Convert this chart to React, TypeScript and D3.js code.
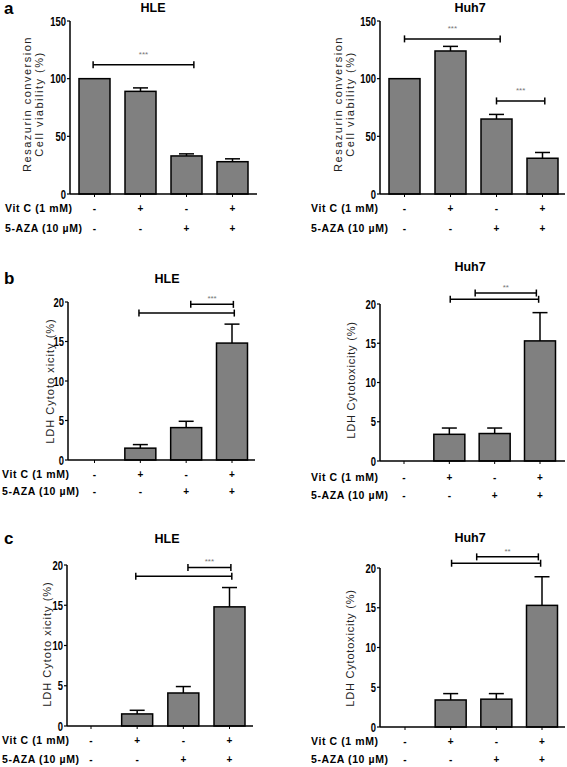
import React from "react";
import * as d3 from "d3";

// ---------- data ----------
const vitCLabel = "Vit C (1 mM)";
const azaLabel = "5-AZA (10 µM)";
const vitCSigns = ["-", "+", "-", "+"];
const azaSigns = ["-", "-", "+", "+"];

const viabilityTicks = [0, 50, 100, 150];
const ldhTicks = [0, 5, 10, 15, 20];

const hleViability = [100, 89, 33, 28];
const hleViabilityErr = [0, 3, 1.8, 2.5];
const huh7Viability = [100, 124, 65, 31];
const huh7ViabilityErr = [0, 4, 4, 5];

const hleLdh = [0, 1.5, 4.1, 14.8];
const hleLdhErr = [0, 0.45, 0.8, 2.4];
const huh7Ldh = [0, 3.4, 3.5, 15.3];
const huh7LdhErr = [0, 0.8, 0.7, 3.6];

// significance brackets: from/to in group-index units
const hleViabilitySig = [{ from: -0.03, to: 2.16, value: 112, label: "***" }];
const huh7ViabilitySig = [
  { from: 0, to: 2.08, value: 134.5, label: "***" },
  { from: 2.0, to: 3.05, value: 80.7, label: "***" },
];
const hleLdhSig = [
  { from: 2.1, to: 3.03, value: 19.7, label: "***" },
  { from: 0.97, to: 3.05, value: 18.6, label: "" },
];
const huh7LdhSig = [
  { from: 1.57, to: 2.92, value: 21.4, label: "**" },
  { from: 1.02, to: 2.97, value: 20.6, label: "" },
];

type Sig = { from: number; to: number; value: number; label: string };
type Spec = {
  axisX: number; axisEnd: number; yBottom: number; yTop: number; yMax: number;
  ticks: number[]; centers: [number, number];
  values: number[]; errors: number[]; sigs: Sig[];
  title: string; titleX: number; titleY: number;
  yLabel: string[]; yLabelX: number; yLabelY: number; yLabelSpacing: number;
  rowX: number; rowY: [number, number];
  letter?: string; letterY?: number;
};

const panels: Spec[] = [
  {
    axisX: 70, axisEnd: 257, yBottom: 194, yTop: 21, yMax: 150, ticks: viabilityTicks,
    centers: [94.5, 232.5], values: hleViability, errors: hleViabilityErr, sigs: hleViabilitySig,
    title: "HLE", titleX: 153, titleY: 12,
    yLabel: ["Resazurin conversion", "Cell viability (%)"], yLabelX: 33, yLabelY: 104, yLabelSpacing: 1.5,
    rowX: 5, rowY: [212, 232], letter: "a", letterY: 14,
  },
  {
    axisX: 380, axisEnd: 565, yBottom: 194, yTop: 21, yMax: 150, ticks: viabilityTicks,
    centers: [404.5, 542.5], values: huh7Viability, errors: huh7ViabilityErr, sigs: huh7ViabilitySig,
    title: "Huh7", titleX: 470, titleY: 12,
    yLabel: ["Resazurin conversion", "Cell viability (%)"], yLabelX: 344, yLabelY: 104, yLabelSpacing: 1.5,
    rowX: 311, rowY: [212, 232],
  },
  {
    axisX: 68, axisEnd: 255, yBottom: 460, yTop: 302, yMax: 20, ticks: ldhTicks,
    centers: [94.5, 232], values: hleLdh, errors: hleLdhErr, sigs: hleLdhSig,
    title: "HLE", titleX: 167, titleY: 283,
    yLabel: ["LDH Cytoto xicity (%)"], yLabelX: 50, yLabelY: 381, yLabelSpacing: 1,
    rowX: 2, rowY: [477.5, 495], letter: "b", letterY: 284,
  },
  {
    axisX: 380, axisEnd: 565, yBottom: 461, yTop: 304, yMax: 20, ticks: ldhTicks,
    centers: [404, 540], values: huh7Ldh, errors: huh7LdhErr, sigs: huh7LdhSig,
    title: "Huh7", titleX: 470, titleY: 271,
    yLabel: ["LDH Cytotoxicity (%)"], yLabelX: 351, yLabelY: 380, yLabelSpacing: 0.8,
    rowX: 311, rowY: [481, 499],
  },
  {
    axisX: 67, axisEnd: 253, yBottom: 726, yTop: 565, yMax: 20, ticks: ldhTicks,
    centers: [91, 229.5], values: hleLdh, errors: hleLdhErr, sigs: hleLdhSig,
    title: "HLE", titleX: 167, titleY: 543,
    yLabel: ["LDH Cytoto xicity (%)"], yLabelX: 47, yLabelY: 644, yLabelSpacing: 1,
    rowX: 2, rowY: [744, 763], letter: "c", letterY: 544,
  },
  {
    axisX: 380, axisEnd: 565, yBottom: 727, yTop: 568, yMax: 20, ticks: ldhTicks,
    centers: [405, 542], values: huh7Ldh, errors: huh7LdhErr, sigs: huh7LdhSig,
    title: "Huh7", titleX: 470, titleY: 542,
    yLabel: ["LDH Cytotoxicity (%)"], yLabelX: 350, yLabelY: 648, yLabelSpacing: 0.8,
    rowX: 311, rowY: [745, 763],
  },
];

const SANS = "'Liberation Sans', Arial, sans-serif";
const BAR_W = 31;

function Panel({ s }: { s: Spec }) {
  const idx = [0, 1, 2, 3];
  const x = d3.scalePoint<number>().domain(idx).range(s.centers);
  const step = x.step();
  const xi = (t: number) => (x(0) as number) + t * step;
  const y = d3.scaleLinear().domain([0, s.yMax]).range([s.yBottom, s.yTop]);
  const capHalf = 7.5;
  return (
    <g>
      {s.letter && (
        <text x={4} y={s.letterY} fontFamily={SANS} fontWeight="bold" fontSize={17}>{s.letter}</text>
      )}
      <text x={s.titleX} y={s.titleY} textAnchor="middle" fontFamily={SANS} fontWeight="bold" fontSize={12.5}>
        {s.title}
      </text>
      {/* y label */}
      <g transform={`translate(${s.yLabelX},${s.yLabelY}) rotate(-90)`}>
        {s.yLabel.map((l, i) => (
          <text key={i} x={0} y={(i - (s.yLabel.length - 1) / 2) * 12.5 + 4} textAnchor="middle"
            fontFamily={SANS} fontSize={11} letterSpacing={s.yLabelSpacing} fill="#222">
            {l}
          </text>
        ))}
      </g>
      {/* bars */}
      {s.values.map((v, i) =>
        v > 0 ? (
          <rect key={i} x={(x(i) as number) - BAR_W / 2} y={y(v)} width={BAR_W} height={y(0) - y(v)}
            fill="#808080" stroke="#000" strokeWidth={1.5} />
        ) : null
      )}
      {/* error bars */}
      {s.values.map((v, i) =>
        s.errors[i] > 0 ? (
          <g key={i} stroke="#000" strokeWidth={1.5}>
            <line x1={x(i)} x2={x(i)} y1={y(v)} y2={y(v + s.errors[i])} />
            <line x1={(x(i) as number) - capHalf} x2={(x(i) as number) + capHalf}
              y1={y(v + s.errors[i])} y2={y(v + s.errors[i])} />
          </g>
        ) : null
      )}
      {/* axes */}
      <line x1={s.axisX} x2={s.axisX} y1={y(0)} y2={y(s.yMax)} stroke="#000" strokeWidth={1.5} />
      <line x1={s.axisX} x2={s.axisEnd} y1={y(0)} y2={y(0)} stroke="#000" strokeWidth={1.5} />
      {s.ticks.map((t) => (
        <g key={t}>
          <line x1={s.axisX - 3} x2={s.axisX} y1={y(t)} y2={y(t)} stroke="#000" strokeWidth={1.2} />
          <text transform={`translate(${s.axisX - 4},${y(t) + 4.5}) scale(0.7,1)`} textAnchor="end"
            fontFamily={SANS} fontWeight="bold" fontSize={13.5}>{t}</text>
        </g>
      ))}
      {idx.map((i) => (
        <line key={i} x1={x(i)} x2={x(i)} y1={y(0)} y2={y(0) + 3} stroke="#000" strokeWidth={1} />
      ))}
      {/* significance brackets */}
      {s.sigs.map((g, k) => (
        <g key={k}>
          <g stroke="#000" strokeWidth={1.5}>
            <line x1={xi(g.from)} x2={xi(g.to)} y1={y(g.value)} y2={y(g.value)} />
            <line x1={xi(g.from)} x2={xi(g.from)} y1={y(g.value) - 3.5} y2={y(g.value) + 3.5} />
            <line x1={xi(g.to)} x2={xi(g.to)} y1={y(g.value) - 3.5} y2={y(g.value) + 3.5} />
          </g>
          {g.label && (
            <text x={(xi(g.from) + xi(g.to)) / 2} y={y(g.value) - (s.yMax > 100 ? 8 : 3)} textAnchor="middle"
              fontFamily={SANS} fontSize={8} fill="#777">{g.label}</text>
          )}
        </g>
      ))}
      {/* treatment rows */}
      {[vitCLabel, azaLabel].map((lab, r) => (
        <g key={lab}>
          <text x={s.rowX} y={s.rowY[r]} fontFamily={SANS} fontWeight="bold" fontSize={10.5}
            letterSpacing={0.6}>{lab}</text>
          {(r === 0 ? vitCSigns : azaSigns).map((sg, i) => (
            <text key={i} x={x(i)} y={s.rowY[r]} textAnchor="middle" fontFamily={SANS} fontWeight="bold"
              fontSize={10}>{sg}</text>
          ))}
        </g>
      ))}
    </g>
  );
}

export default function App() {
  return (
    <svg width={567} height={767} style={{ position: "absolute", left: 0, top: 0, background: "#fff" }}>
      <rect width={567} height={767} fill="#fff" />
      {panels.map((p, i) => (
        <Panel key={i} s={p} />
      ))}
    </svg>
  );
}
